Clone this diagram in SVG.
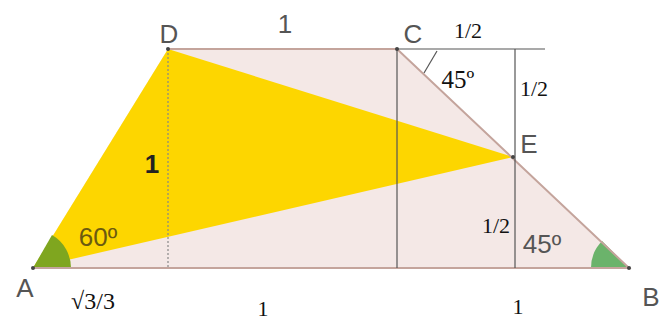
<svg xmlns="http://www.w3.org/2000/svg" width="662" height="321" viewBox="0 0 662 321">
<style>
.lbl{font-family:"Liberation Sans",Arial,sans-serif;font-size:26px;fill:#555;text-anchor:middle}
.ser{font-family:"Liberation Serif","Times New Roman",serif;font-size:22px;fill:#111;text-anchor:middle}
.aux{stroke:#555;stroke-width:1.2;fill:none}
.edge{stroke:#c4a49c;stroke-width:2;fill:none}
</style>
<rect width="662" height="321" fill="#fff"/>
<g id="trapezoid">
<polygon points="33,268 168,49 397,49 629,268" fill="#f4e8e6"/>
</g>
<g id="triangle">
<polygon points="33,268 168,49 513,157" fill="#fdd600"/>
</g>
<g id="angles">
<path d="M33,268 L71,268 A38,38 0 0,0 52,235.1 Z" fill="#7fa61f"/>
<path d="M629,268 L591,268 A38,38 0 0,1 602.1,241.1 Z" fill="#6bb36b"/>
</g>
<g id="connectors">
<polyline class="edge" points="168,49 397,49 629,268 33,268"/>
<line class="aux" x1="397" y1="49" x2="545" y2="49"/>
<line class="aux" x1="397" y1="49" x2="397" y2="268"/>
<line class="aux" x1="515" y1="49" x2="515" y2="268"/>
<line x1="168" y1="49" x2="168" y2="268" stroke="#888" stroke-width="1.2" stroke-dasharray="2,2"/>
<line class="aux" x1="424" y1="73" x2="437" y2="51"/>
</g>
<g id="points" fill="#444">
<circle cx="33" cy="268" r="2"/>
<circle cx="168" cy="49" r="2"/>
<circle cx="397" cy="49" r="2"/>
<circle cx="629" cy="268" r="2"/>
<circle cx="513" cy="157" r="2"/>
</g>
<g id="labels">
<text class="lbl" x="169" y="43">D</text>
<text class="lbl" x="413" y="43">C</text>
<text class="lbl" x="529" y="153">E</text>
<text class="lbl" x="25" y="297">A</text>
<text class="lbl" x="651" y="306">B</text>
<text class="lbl" x="285" y="33">1</text>
<text class="lbl" x="152" y="173" style="font-weight:bold;fill:#222">1</text>
<text class="lbl" x="98" y="246" style="fill:#6b5a10">60º</text>
<text class="lbl" x="542" y="253">45º</text>
<text class="ser" x="468" y="38">1/2</text>
<text class="ser" x="458" y="88" style="font-size:25px">45º</text>
<text class="ser" x="534" y="96">1/2</text>
<text class="ser" x="496" y="233">1/2</text>
<text class="ser" x="93" y="309" style="font-size:24px">√3/3</text>
<text class="ser" x="263" y="316">1</text>
<text class="ser" x="518" y="314">1</text>
</g>
</svg>
